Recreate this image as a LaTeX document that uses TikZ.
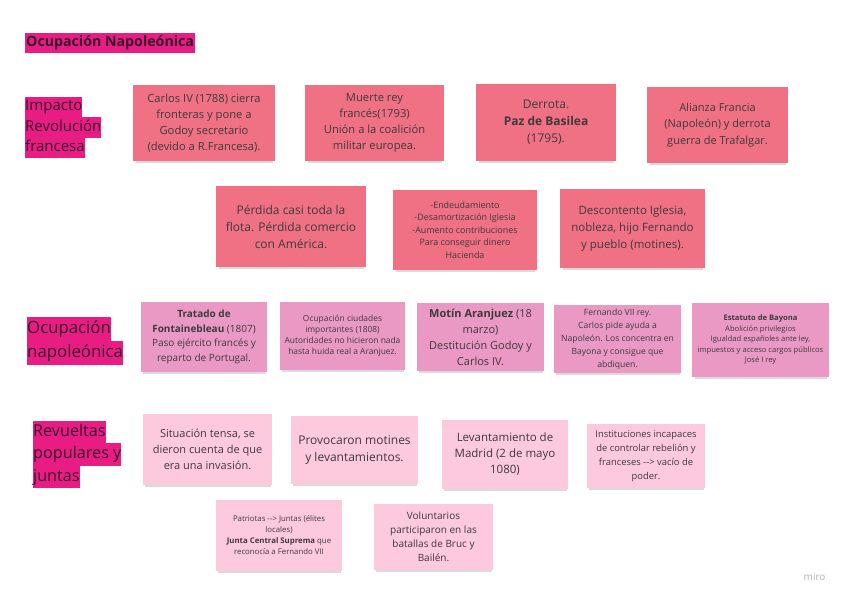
\documentclass[tikz,border=0pt]{standalone}
\usepackage{fontspec}
\setmainfont{Open Sans}
\usetikzlibrary{shadows}
\definecolor{salmon}{RGB}{240,113,131}
\definecolor{orchid}{RGB}{234,153,197}
\definecolor{blush}{RGB}{252,201,221}
\definecolor{mag}{RGB}{233,28,132}
\definecolor{ink}{RGB}{62,58,60}
\definecolor{labink}{RGB}{55,20,45}
\newcommand\myfs[2]{\fontsize{#1}{#2}\selectfont}
\begin{document}
\begin{tikzpicture}[x=1pt,y=-1pt,
  note/.style={align=center, text=ink, inner sep=2pt,
    drop shadow={shadow xshift=0.5pt, shadow yshift=-3.5pt, opacity=0.28, shadow scale=0.97}},
  rowa/.style={note, fill=salmon},
  rowb/.style={note, fill=orchid},
  rowc/.style={note, fill=blush},
  lab/.style={fill=mag, inner xsep=0pt, inner ysep=0pt, anchor=west, text=labink}]
\useasboundingbox (0,0) rectangle (848,600);
\fill[white] (0,0) rectangle (848,600);

% title
\node[lab, font=\bfseries\myfs{14.2}{16}, minimum height=20pt, text height=10.5pt, text depth=3pt, inner xsep=1pt] (title) at (25,43) {Ocupación Napoleónica};

% section labels
\begin{scope}[every node/.style={lab, font=\myfs{15}{20}, minimum height=20.5pt, text height=11pt, text depth=3.5pt}]
\node (l1a) at (25,107) {Impacto};
\node (l1b) at (25,127.5) {Revolución};
\node (l1c) at (25,148) {francesa};
\end{scope}
\begin{scope}[every node/.style={lab, font=\myfs{16.8}{24}, minimum height=24pt, text height=12.5pt, text depth=4pt}]
\node (l2a) at (27,329) {Ocupación};
\node (l2b) at (27,353) {napoleónica};
\end{scope}
\begin{scope}[every node/.style={lab, font=\myfs{16.2}{22}, minimum height=22.5pt, text height=12pt, text depth=4pt}]
\node (l3a) at (33,432) {Revueltas};
\node (l3b) at (33,454.5) {populares y};
\node (l3c) at (33,477) {juntas};
\end{scope}

% row 1
\node[rowa, minimum width=142pt, minimum height=76pt, font=\myfs{11.2}{16}] (b1) at (204,123)
  {Carlos IV (1788) cierra\\fronteras y pone a\\Godoy secretario\\(devido a R.Francesa).};
\node[rowa, minimum width=139pt, minimum height=76pt, font=\myfs{11.2}{16}] (b2) at (374.5,123)
  {Muerte rey\\francés(1793)\\Unión a la coalición\\militar europea.};
\node[rowa, minimum width=140pt, minimum height=77pt, font=\myfs{12}{17}] (b3) at (546,122.5)
  {Derrota.\\\textbf{Paz de Basilea}\\(1795).};
\node[rowa, minimum width=141pt, minimum height=76pt, font=\myfs{11}{16.5}] (b4) at (717.5,125)
  {Alianza Francia\\(Napoleón) y derrota\\guerra de Trafalgar.};

% row 2
\node[rowa, minimum width=150pt, minimum height=81pt, font=\myfs{12}{17}] (b5) at (291,226.5)
  {Pérdida casi toda la\\flota. Pérdida comercio\\con América.};
\node[rowa, minimum width=144pt, minimum height=80pt, font=\myfs{8.9}{12.5}] (b6) at (465,230)
  {-Endeudamiento\\-Desamortización Iglesia\\-Aumento contribuciones\\Para conseguir dinero\\Hacienda};
\node[rowa, minimum width=145pt, minimum height=79pt, font=\myfs{11.5}{17}] (b7) at (632.5,228.5)
  {Descontento Iglesia,\\nobleza, hijo Fernando\\y pueblo (motines).};

% row 3
\node[rowb, minimum width=126pt, minimum height=70pt, font=\myfs{10}{14.5}] (c1) at (204,337)
  {\textbf{Tratado de}\\\textbf{Fontainebleau} (1807)\\Paso ejército francés y\\reparto de Portugal.};
\node[rowb, minimum width=125pt, minimum height=68pt, font=\myfs{8.4}{11}] (c2) at (342.5,336)
  {Ocupación ciudades\\importantes (1808)\\Autoridades no hicieron nada\\hasta huida real a Aranjuez.};
\node[rowb, minimum width=127pt, minimum height=68pt, font=\myfs{11}{16}] (c3) at (480.5,337)
  {\textbf{Motín Aranjuez} (18\\marzo)\\Destitución Godoy y\\Carlos IV.};
\node[rowb, minimum width=127pt, minimum height=68pt, font=\myfs{8.6}{13}] (c4) at (617.5,339)
  {Fernando VII rey.\\Carlos pide ayuda a\\Napoleón. Los concentra en\\Bayona y consigue que\\abdiquen.};
\node[rowb, minimum width=137pt, minimum height=74pt, font=\myfs{7.6}{10.5}] (c5) at (760.5,340)
  {\textbf{Estatuto de Bayona}\\Abolición privilegios\\Igualdad españoles ante ley,\\impuestos y acceso cargos públicos\\José I rey};

% row 4
\node[rowc, minimum width=129pt, minimum height=71pt, font=\myfs{11}{16}] (d1) at (207.5,449.5)
  {Situación tensa, se\\dieron cuenta de que\\era una invasión.};
\node[rowc, minimum width=127pt, minimum height=68pt, font=\myfs{12}{17.5}] (d2) at (354.5,450)
  {Provocaron motines\\y levantamientos.};
\node[rowc, minimum width=126pt, minimum height=69pt, font=\myfs{11.5}{16}] (d3) at (505,454.5)
  {Levantamiento de\\Madrid (2 de mayo\\1080)};
\node[rowc, minimum width=118pt, minimum height=64pt, font=\myfs{9.4}{14}] (d4) at (646,456)
  {Instituciones incapaces\\de controlar rebelión y\\franceses -{}-> vacío de\\poder.};

% row 5
\node[rowc, minimum width=126pt, minimum height=71pt, font=\myfs{7.8}{11}] (e1) at (279,535.5)
  {Patriotas -{}-> Juntas (élites\\locales)\\\textbf{Junta Central Suprema} que\\reconocía a Fernando VII};
\node[rowc, minimum width=119pt, minimum height=66pt, font=\myfs{10}{14}] (e2) at (433.5,537)
  {Voluntarios\\participaron en las\\batallas de Bruc y\\Bailén.};

% watermark
\node[text=black!30, font=\myfs{10}{12}, anchor=east] (miro) at (829,577) {miro};
\end{tikzpicture}
\end{document}
